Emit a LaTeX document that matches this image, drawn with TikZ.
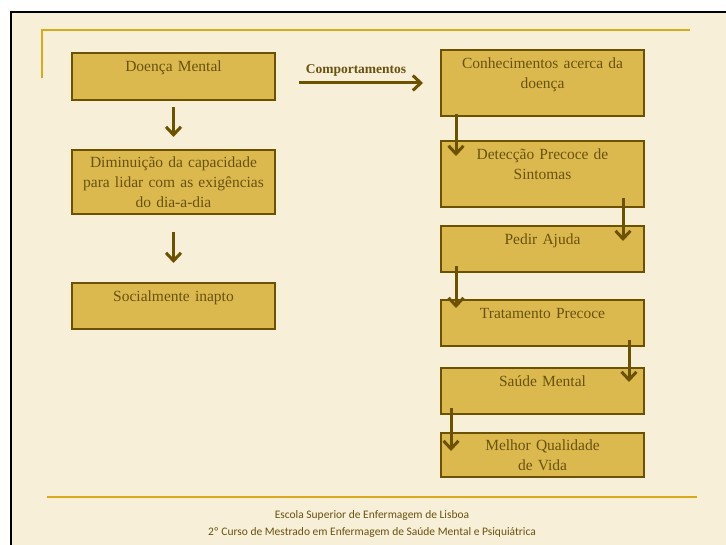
\documentclass[tikz,border=0pt]{standalone}
\usepackage{fontspec}
\setmainfont{Liberation Serif}
\newfontfamily\footfont{Carlito}
\usetikzlibrary{arrows.meta}
\definecolor{paper}{RGB}{248,239,217}
\definecolor{ochre}{RGB}{220,185,78}
\definecolor{umber}{RGB}{108,82,0}
\definecolor{gold}{RGB}{217,170,30}
\definecolor{inkbrown}{RGB}{104,82,14}
\tikzstyle{stage} = [draw=umber, fill=ochre, rectangle, line width=2pt, minimum width=203pt, text width=200pt, align=center, inner sep=0pt, text=inkbrown, font=\fontsize{15.5}{20}\selectfont]
\tikzstyle{flow} = [draw=umber, line width=3pt, -{Straight Barb[length=8pt,width=15pt]}]
\tikzstyle{rule} = [draw=gold, line width=2pt]

\begin{document}
\begin{tikzpicture}[x=1pt,y=-1pt]
\useasboundingbox (0,0) rectangle (726,545);

% Slide frame
\fill[paper] (11,11) rectangle (726,545);
\draw[line width=2pt] (726,12) -- (11,12) -- (11,545);
\draw[rule] (42,78) -- (42,30) -- (690,30);
\draw[rule] (47,497) -- (697,497);

% Left column
\node[stage, minimum height=47pt] (illness) at (173.5,76.5) {Doença Mental\\\mbox{}};
\node[stage, minimum height=64pt] (coping) at (173.5,182) {Diminuição da capacidade\\para lidar com as exigências\\do dia-a-dia};
\node[stage, minimum height=46pt] (unfit) at (173.5,306) {Socialmente inapto\\\mbox{}};

% Right column
\node[stage, minimum height=66pt] (know) at (542.5,83) {Conhecimentos acerca da\\doença\\\mbox{}};
\node[stage, minimum height=66pt] (early) at (542.5,174) {Detecção Precoce de\\Sintomas\\\mbox{}};
\node[stage, minimum height=46pt] (help) at (542.5,249) {Pedir Ajuda\\\mbox{}};
\node[stage, minimum height=46pt] (treat) at (542.5,323) {Tratamento Precoce\\\mbox{}};
\node[stage, minimum height=46pt] (health) at (542.5,391) {Saúde Mental\\\mbox{}};
\node[stage, minimum height=44pt] (life) at (542.5,455) {Melhor Qualidade\\de Vida};

% Behaviour link
\node[font=\bfseries\fontsize{13.5}{16}\selectfont, text=inkbrown] (behav) at (356,70) {Comportamentos};
\coordinate (behavtail) at (299,83);
\draw[flow] (behavtail) -- ([xshift=-17pt]know.west);

% Draw connectors
\draw[flow] ([yshift=-6pt]illness.south) -- ([yshift=12pt]coping.north);
\draw[flow] ([yshift=-17pt]coping.south) -- ([yshift=19pt]unfit.north);

\draw[flow] ([xshift=16pt,yshift=3pt]know.south west) -- ([xshift=16pt,yshift=-16pt]early.north west);
\draw[flow] ([xshift=-22pt,yshift=10pt]early.south east) -- ([xshift=-22pt,yshift=-16pt]help.north east);
\draw[flow] ([xshift=16pt,yshift=7pt]help.south west) -- ([xshift=16pt,yshift=-9pt]treat.north west);
\draw[flow] ([xshift=-16pt,yshift=7pt]treat.south east) -- ([xshift=-16pt,yshift=-15pt]health.north east);
\draw[flow] ([xshift=11pt,yshift=7pt]health.south west) -- ([xshift=11pt,yshift=-19pt]life.north west);

% Footer
\node[font=\footfont\fontsize{11.5}{17}\selectfont, text=inkbrown, align=center] (school) at (372,523.5) {Escola Superior de Enfermagem de Lisboa\\2º Curso de Mestrado em Enfermagem de Saúde Mental e Psiquiátrica};

\end{tikzpicture}
\end{document}
